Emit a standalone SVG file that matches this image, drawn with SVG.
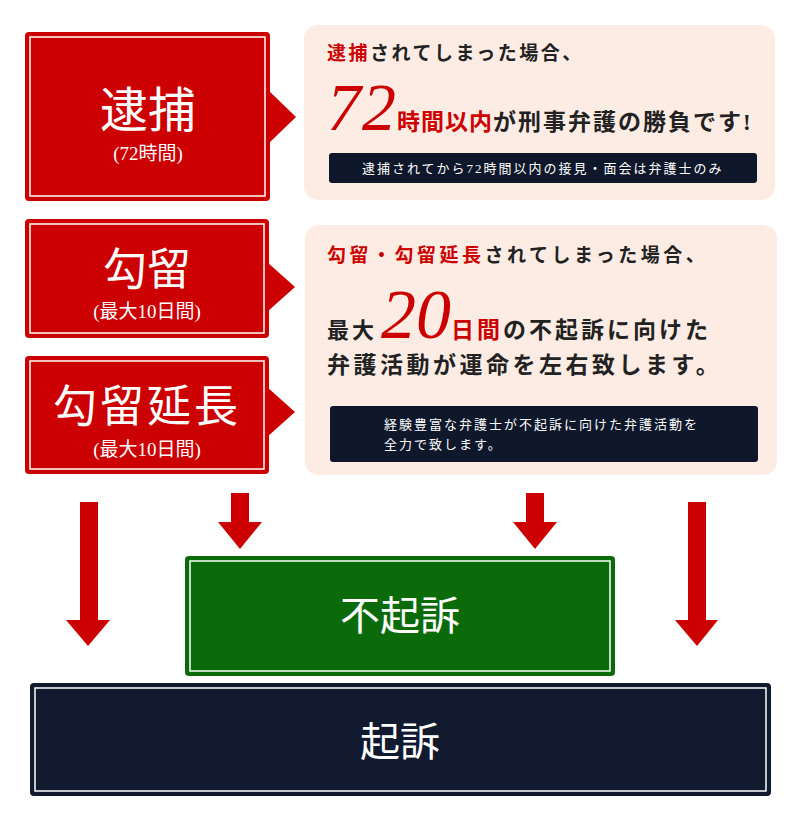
<svg xmlns="http://www.w3.org/2000/svg" width="800" height="815" viewBox="0 0 800 815">
<style>
text{font-family:"Liberation Serif","Noto Sans CJK JP",serif}
.rb{fill:#cc0000;stroke:#cc0000;stroke-width:2}
.in{fill:none;stroke:#fff;stroke-width:1.5}
.w{fill:#fff;text-anchor:middle}
.panel{fill:#fdece4}
.bar{fill:#0f172a}
.bt{fill:#fff;font-size:13px;letter-spacing:2px}
.k{fill:#222;font-weight:bold}
.r{fill:#cc0000;font-weight:bold}
.arr{fill:#cc0000}
</style>
<rect width="800" height="815" fill="#fff"/>
<g id="taiho">
<rect class="rb" x="26" y="33" width="243" height="167" rx="3"/>
<rect class="in" x="30" y="37" width="235" height="159"/>
<polygon class="arr" points="268,90 296,117 268,144"/>
<text class="w" x="148" y="127" font-size="48">逮捕</text>
<text class="w" x="148" y="160" font-size="19">(72時間)</text>
</g>
<g id="koryu">
<rect class="rb" x="26" y="220" width="242" height="117" rx="3"/>
<rect class="in" x="30" y="224" width="234" height="109"/>
<polygon class="arr" points="267,262 295,287 267,312"/>
<text class="w" x="147" y="285" font-size="44">勾留</text>
<text class="w" x="147" y="318" font-size="19">(最大10日間)</text>
</g>
<g id="enchou">
<rect class="rb" x="26" y="357" width="242" height="116" rx="3"/>
<rect class="in" x="30" y="361" width="234" height="108"/>
<polygon class="arr" points="267,387 295,412 267,437"/>
<text class="w" x="147" y="422" font-size="44" letter-spacing="3">勾留延長</text>
<text class="w" x="147" y="456" font-size="19">(最大10日間)</text>
</g>
<g id="panel1">
<rect class="panel" x="304" y="25" width="471" height="175" rx="14"/>
<text x="327" y="60" font-size="19" letter-spacing="2.5"><tspan class="r">逮捕</tspan><tspan class="k">されてしまった場合、</tspan></text>
<text x="327" y="130" letter-spacing="1"><tspan fill="#cc0000" font-size="68" font-style="italic">72</tspan><tspan class="r" font-size="23">時間以内</tspan><tspan class="k" font-size="23" letter-spacing="2">が刑事弁護の勝負です!</tspan></text>
<rect class="bar" x="329" y="153" width="428" height="30" rx="3"/>
<text class="bt" x="362" y="173">逮捕されてから72時間以内の接見・面会は弁護士のみ</text>
</g>
<g id="panel2">
<rect class="panel" x="305" y="225" width="472" height="250" rx="14"/>
<text x="327" y="262" font-size="19" letter-spacing="3.5"><tspan class="r">勾留・勾留延長</tspan><tspan class="k">されてしまった場合、</tspan></text>
<text x="327" y="338" letter-spacing="3"><tspan class="k" font-size="22">最大</tspan><tspan fill="#cc0000" font-size="70" font-style="italic" dx="4" letter-spacing="0">20</tspan><tspan class="r" font-size="23">日間</tspan><tspan class="k" font-size="23">の不起訴に向けた</tspan></text>
<text class="k" x="327" y="373" font-size="23" letter-spacing="3.5">弁護活動が運命を左右致します。</text>
<rect class="bar" x="330" y="406" width="428" height="56" rx="3"/>
<text class="bt" x="384" y="429">経験豊富な弁護士が不起訴に向けた弁護活動を</text>
<text class="bt" x="384" y="449">全力で致します。</text>
</g>
<g id="connectors">
<polygon class="arr" points="80,502 98,502 98,620 110,620 88,646 66,620 80,620"/>
<polygon class="arr" points="231,493 249,493 249,522 262,522 240,549 218,522 231,522"/>
<polygon class="arr" points="526,493 544,493 544,522 557,522 535,549 513,522 526,522"/>
<polygon class="arr" points="688,502 706,502 706,620 718,620 697,646 675,620 688,620"/>
</g>
<g id="fukiso">
<rect x="186" y="557" width="428" height="118" fill="#0b6b0b" stroke="#0b6b0b" stroke-width="2" rx="3"/>
<rect class="in" x="190" y="561" width="420" height="110"/>
<text class="w" x="400" y="630" font-size="40">不起訴</text>
</g>
<g id="kiso">
<rect x="31" y="684" width="739" height="111" fill="#111a2e" stroke="#111a2e" stroke-width="2" rx="3"/>
<rect class="in" x="35" y="688" width="731" height="103"/>
<text class="w" x="400" y="756" font-size="40">起訴</text>
</g>
</svg>
